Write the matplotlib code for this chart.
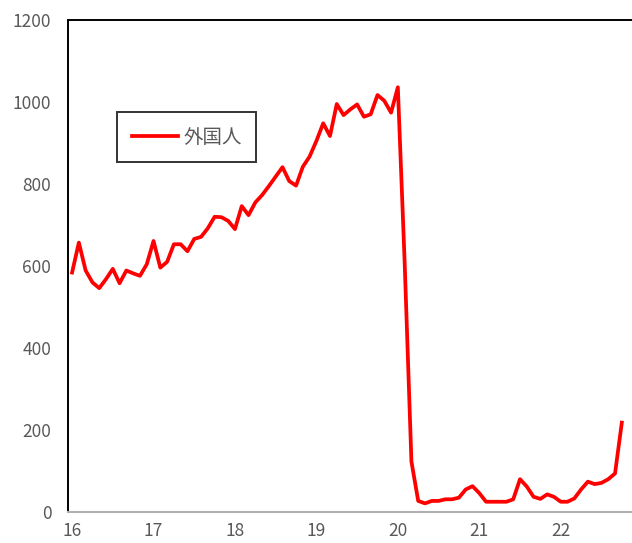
import matplotlib.pyplot as plt
import numpy as np

plt.rcParams['font.family'] = ['Noto Sans CJK JP', 'DejaVu Sans']

# monthly values, Jan 2016 - Oct 2022
v2016 = [584, 657, 589, 560, 546, 568, 593, 558, 589, 582, 576, 604]
v2017 = [661, 596, 610, 653, 653, 636, 666, 671, 692, 720, 719, 710]
v2018 = [690, 746, 724, 755, 773, 795, 818, 841, 807, 796, 842, 867]
v2019 = [905, 948, 917, 995, 968, 982, 994, 964, 970, 1017, 1003, 974]
v2020 = [1036, 610, 123, 27, 21, 27, 27, 31, 31, 35, 55, 63]
v2021 = [46, 25, 25, 25, 25, 31, 80, 62, 37, 32, 43, 37]
v2022 = [25, 25, 33, 55, 74, 68, 71, 80, 94, 218]

values = v2016 + v2017 + v2018 + v2019 + v2020 + v2021 + v2022
year_labels = ['16', '17', '18', '19', '20', '21', '22']

gray = '#595959'

fig = plt.figure(figsize=(6.32, 5.43), dpi=100)
ax = fig.add_axes([0.1076, 0.0571, 0.8924, 0.9061])

x = np.arange(len(values))
ax.plot(x, values, color='#ff0000', linewidth=2.7, label='外国人')

ax.set_xlim(-0.6, 82.5)
ax.set_ylim(0, 1200)
ax.set_yticks(range(0, 1201, 200))
ax.set_xticks(range(0, 73, 12))
ax.set_xticklabels(year_labels)

ax.tick_params(axis='both', length=0, labelsize=12.5, labelcolor=gray)
ax.tick_params(axis='x', pad=7)
ax.tick_params(axis='y', pad=12)

ax.spines['left'].set_color('black')
ax.spines['left'].set_linewidth(1.4)
ax.spines['top'].set_color('black')
ax.spines['top'].set_linewidth(1.4)
ax.spines['bottom'].set_color('#b0b0b0')
ax.spines['bottom'].set_linewidth(1.5)
ax.spines['right'].set_visible(False)

leg = ax.legend(loc='upper left', bbox_to_anchor=(0.087, 0.813), borderaxespad=0,
                fontsize=14, frameon=True, fancybox=False, handlelength=2.4,
                handletextpad=0.25, borderpad=0.75)
leg.get_frame().set_edgecolor('black')
leg.get_frame().set_linewidth(1.4)
for t in leg.get_texts():
    t.set_color(gray)

fig.savefig('out.png', dpi=100)
